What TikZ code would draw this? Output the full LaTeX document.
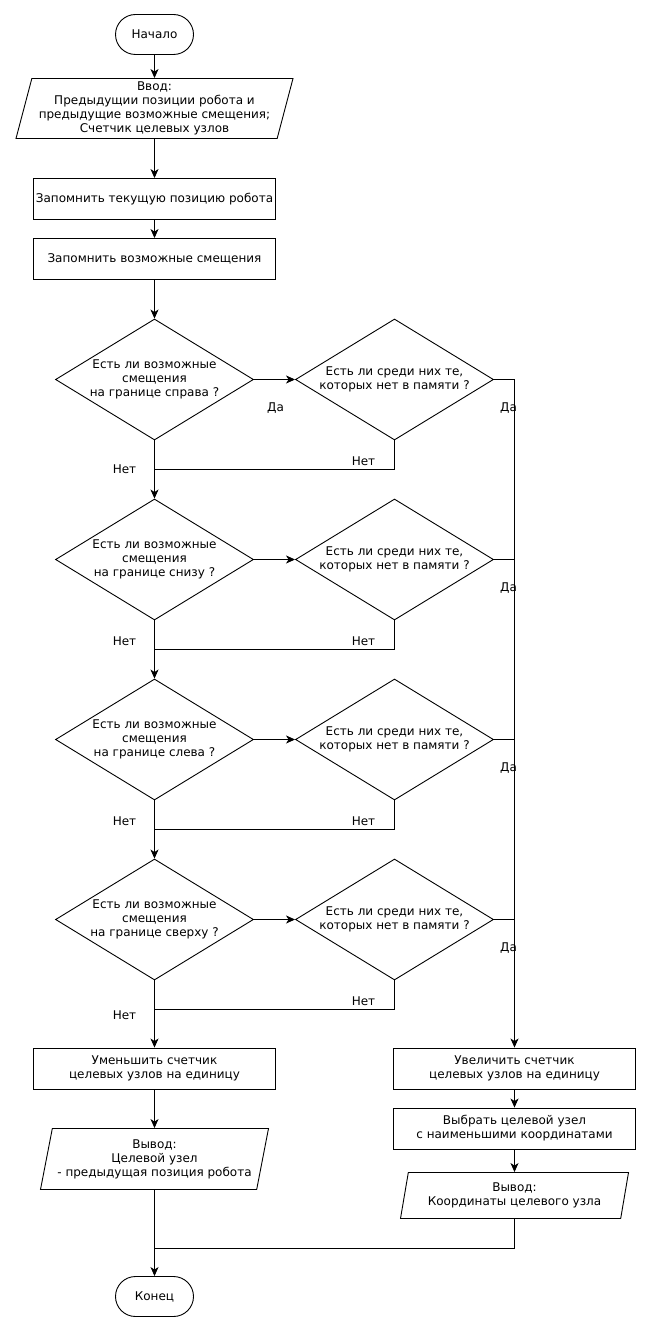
\documentclass[tikz,border=0pt]{standalone}
\usepackage{fontspec}
\setmainfont{DejaVu Sans}
\usetikzlibrary{shapes.geometric,arrows.meta}

\begin{document}
\begin{tikzpicture}[
		x=1pt,y=-1pt,
		line width=0.9pt,
		font=\fontsize{12}{14}\selectfont,
		arr/.style={-{Stealth[length=9pt,width=8pt,inset=2.5pt]}},
		term/.style={draw,rounded corners=20pt,minimum width=78pt,minimum height=40pt},
		proc/.style={draw,minimum width=242pt,minimum height=41pt,align=center,inner sep=1pt},
		io/.style={draw,trapezium,trapezium left angle=74,trapezium right angle=106,
				trapezium stretches body,align=center,inner sep=1pt},
		cond/.style={draw,diamond,aspect=1.64,minimum width=198pt,minimum height=121pt,
				inner sep=0pt,align=center},
		lbl/.style={inner sep=0pt}
	]
	\useasboundingbox (-0.5,-0.5) rectangle (649.5,1331.5);

	\node[term] (start) at (154,34) {Начало};
	\node[io,minimum width=277pt,minimum height=60pt] (in) at (154,108)
		{Ввод:\\Предыдущии позиции робота и\\предыдущие возможные смещения;\\Счетчик целевых узлов};
	\node[proc] (rem1) at (154,198.5) {Запомнить текущую позицию робота};
	\node[proc] (rem2) at (154,258.5) {Запомнить возможные смещения};

	\foreach \i/\y/\side in {1/379/справа,2/559/снизу,3/739/слева,4/919/сверху}{
		\node[cond] (d\i) at (154,\y) {Есть ли возможные\\смещения\\на границе \side\ ?};
		\node[cond] (q\i) at (394,\y) {Есть ли среди них те,\\которых нет в памяти ?};
		\coordinate (j\i) at (154,\y+90);
		\draw[arr] (d\i.east) -- (q\i.west);
		\draw (q\i.south) |- (j\i);
	}

	\node[proc] (dec) at (154,1068) {Уменьшить счетчик\\целевых узлов на единицу};
	\node[io,minimum width=228pt,minimum height=61pt] (outl) at (154,1158.5)
		{Вывод:\\Целевой узел\\- предыдущая позиция робота};
	\node[proc] (inc) at (514,1068) {Увеличить счетчик\\целевых узлов на единицу};
	\node[proc] (pick) at (514,1128) {Выбрать целевой узел\\с наименьшими координатами};
	\node[io,minimum width=228pt,minimum height=46pt] (outr) at (514,1195)
		{Вывод:\\Координаты целевого узла};
	\node[term] (stop) at (154,1296) {Конец};
	\coordinate (jm) at (154,1248);

	% labels
	\node[lbl] (yes0) at (275,408) {Да};
	\node[lbl] (yes1) at (508,408) {Да};
	\node[lbl] (yes2) at (508,588) {Да};
	\node[lbl] (yes3) at (508,768) {Да};
	\node[lbl] (yes4) at (508,948) {Да};
	\node[lbl] (nol1) at (124,469) {Нет};
	\node[lbl] (nol2) at (124,641) {Нет};
	\node[lbl] (nol3) at (124,821) {Нет};
	\node[lbl] (nol4) at (124,1015) {Нет};
	\node[lbl] (nor1) at (363,461) {Нет};
	\node[lbl] (nor2) at (363,641) {Нет};
	\node[lbl] (nor3) at (363,821) {Нет};
	\node[lbl] (nor4) at (363,1001) {Нет};

	% main line
	\draw[arr] (start) -- (in);
	\draw[arr] (in) -- (rem1);
	\draw[arr] (rem1) -- (rem2);
	\draw[arr] (rem2) -- (d1);
	\draw[arr] (d1) -- (d2);
	\draw[arr] (d2) -- (d3);
	\draw[arr] (d3) -- (d4);
	\draw[arr] (d4) -- (dec);
	\draw[arr] (dec) -- (outl);
	\draw[arr] (outl) -- (stop);

	% yes branch
	\draw[arr] (q1.east) -| (inc.north);
	\draw (q2.east) -- (q2.east -| inc.north);
	\draw (q3.east) -- (q3.east -| inc.north);
	\draw (q4.east) -- (q4.east -| inc.north);
	\draw[arr] (inc) -- (pick);
	\draw[arr] (pick) -- (outr);
	\draw (outr.south) |- (jm);
\end{tikzpicture}
\end{document}
